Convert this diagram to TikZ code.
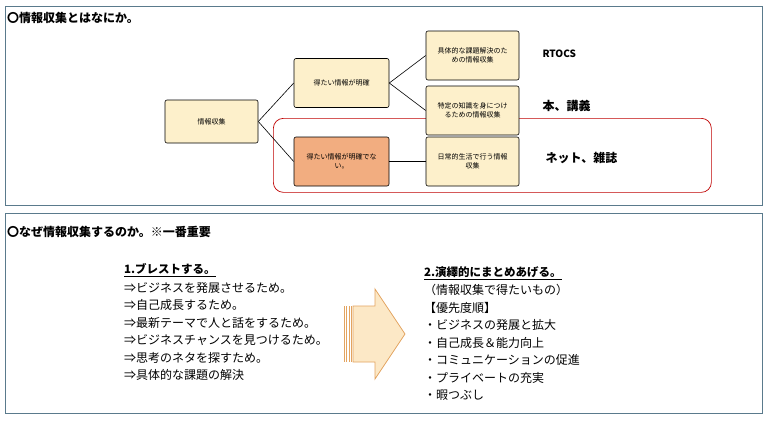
\documentclass[tikz,border=0pt]{standalone}
\usepackage{fontspec}
\setmainfont{Noto Sans CJK JP}
\XeTeXlinebreaklocale "ja"
\usepackage{xcolor}
\definecolor{cream}{HTML}{FDF0CB}
\definecolor{orng}{HTML}{F2AD80}
\definecolor{frame}{HTML}{5A7A8C}
\definecolor{arrowfill}{HTML}{FCE8C6}
\definecolor{arrowline}{HTML}{E3A460}
\begin{document}
\begin{tikzpicture}[x=1pt,y=-1pt,
  box/.style={draw=black,fill=cream,rounded corners=2pt,line width=0.6pt,minimum width=93pt,minimum height=49pt,align=center,font=\fontsize{7}{9}\selectfont},
  lbl/.style={font=\bfseries\fontsize{10}{12}\selectfont,anchor=west},
  li/.style={anchor=west,font=\fontsize{12}{14}\selectfont,inner sep=0pt},
  hd/.style={anchor=west,font=\bfseries\fontsize{11.5}{14}\selectfont,inner sep=0pt}]
\useasboundingbox (0,0) rectangle (768,432);
\fill[white] (0,0) rectangle (768,432);
\node[draw=frame,line width=0.8pt,minimum width=757pt,minimum height=199pt,anchor=north west] (f1) at (5,6) {};
\node[draw=frame,line width=0.8pt,minimum width=757pt,minimum height=200pt,anchor=north west] (f2) at (5,213) {};
\node[anchor=west,inner sep=0pt,font=\bfseries\fontsize{12}{14}\selectfont] (t1) at (7,18) {〇情報収集とはなにか。};
\node[draw=red!75!black,rounded corners=10pt,line width=0.7pt,minimum width=438pt,minimum height=74pt,anchor=north west] (red) at (273,118) {};
\node[box,minimum width=93pt,minimum height=43pt] (root) at (211.5,121.5) {情報収集};
\node[box,minimum width=95pt] (a) at (341.5,83) {得たい情報が明確};
\node[box,minimum width=95pt,fill=orng] (b) at (341.5,161.5) {得たい情報が明確でな\\い。};
\node[box] (a1) at (472.5,55.5) {具体的な課題解決のた\\めの情報収集};
\node[box] (a2) at (472.5,110.5) {特定の知識を身につけ\\るための情報収集};
\node[box] (b1) at (472.5,161.5) {日常的生活で行う情報\\収集};
\draw[line width=0.6pt] (root.east) -- (a.west);
\draw[line width=0.6pt] (root.east) -- (b.west);
\draw[line width=0.6pt] (a.east) -- (a1.west);
\draw[line width=0.6pt] (a.east) -- (a2.west);
\draw[line width=0.6pt] (b.east) -- (b1.west);
\node[lbl] (l1) at (539,54) {RTOCS};
\node[lbl,font=\bfseries\fontsize{12}{14}\selectfont] (l2) at (539,106) {本、講義};
\node[lbl,font=\bfseries\fontsize{12}{14}\selectfont] (l3) at (542,158) {ネット、雑誌};
\node[anchor=west,inner sep=0pt,font=\bfseries\fontsize{12}{14}\selectfont] (t2) at (7,232) {〇なぜ情報収集するのか。※一番重要};
% arrow
\draw[arrowline,fill=arrowfill,line width=0.8pt] (353,306) -- (375,306) -- (375,289) -- (405,334) -- (375,379) -- (375,362) -- (353,362) -- cycle;
\foreach \xx in {344,346.5,349,351.5}{\draw[arrowline,line width=0.6pt] (\xx,306) -- (\xx,362);}
\node[hd] (h1) at (124,270) {\underline{1.ブレストする。}};
\node[li] (p1) at (124,287.5) {⇒ビジネスを発展させるため。};
\node[li] (p2) at (124,305) {⇒自己成長するため。};
\node[li] (p3) at (124,322.5) {⇒最新テーマで人と話をするため。};
\node[li] (p4) at (124,340) {⇒ビジネスチャンスを見つけるため。};
\node[li] (p5) at (124,357.5) {⇒思考のネタを探すため。};
\node[li] (p6) at (124,375) {⇒具体的な課題の解決};
\node[hd] (h2) at (424,273) {\underline{2.演繹的にまとめあげる。}};
\node[li] (q1) at (424,290) {（情報収集で得たいもの）};
\node[li] (q2) at (424,307.5) {【優先度順】};
\node[li] (q3) at (424,325) {・ビジネスの発展と拡大};
\node[li] (q4) at (424,342.5) {・自己成長＆能力向上};
\node[li] (q5) at (424,360) {・コミュニケーションの促進};
\node[li] (q6) at (424,377.5) {・プライベートの充実};
\node[li] (q7) at (424,395) {・暇つぶし};
\end{tikzpicture}
\end{document}
